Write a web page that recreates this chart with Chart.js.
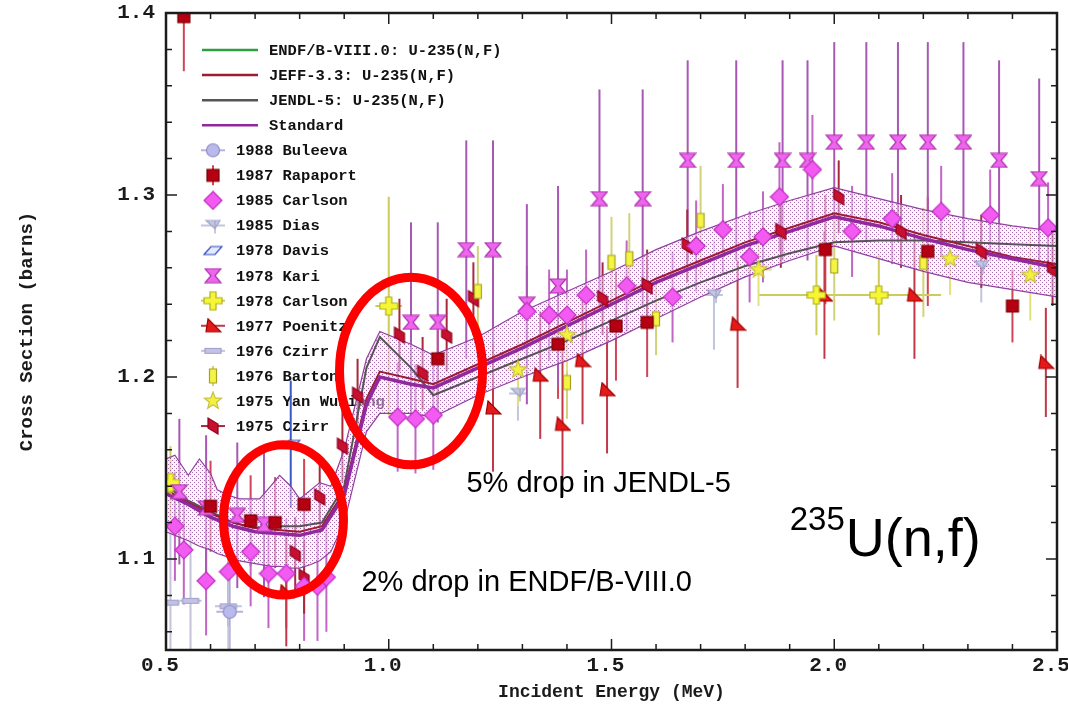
<!DOCTYPE html>
<html>
<head>
<meta charset="utf-8">
<script src="https://cdn.jsdelivr.net/npm/chart.js@4.4.1/dist/chart.umd.min.js"></script>
<style>
html, body { margin: 0; padding: 0; background: #fff; }
</style>
</head>
<body>
<canvas id="chart" width="1068" height="705"></canvas>
<script>
// axis tick labels
var xTickValues = [0.5, 1.0, 1.5, 2.0, 2.5];
var yTickValues = [1.1, 1.2, 1.3, 1.4];

// evaluations (MeV, barns)
var evalE = [0.5, 0.55, 0.6, 0.65, 0.7, 0.75, 0.8, 0.85, 0.9, 0.95, 0.98, 1.05, 1.1, 1.2, 1.3, 1.4, 1.5, 1.6, 1.7, 1.8, 1.9, 2.0, 2.1, 2.2, 2.3, 2.4, 2.5];
var stdS   = [1.136, 1.130, 1.123, 1.118, 1.115, 1.114, 1.113, 1.116, 1.135, 1.185, 1.200, 1.196, 1.194, 1.205, 1.216, 1.228, 1.240, 1.252, 1.262, 1.272, 1.280, 1.288, 1.283, 1.276, 1.270, 1.265, 1.260];
var endfS  = [1.136, 1.130, 1.123, 1.118, 1.115, 1.114, 1.113, 1.116, 1.135, 1.185, 1.200, 1.196, 1.194, 1.205, 1.216, 1.228, 1.240, 1.252, 1.262, 1.272, 1.280, 1.288, 1.283, 1.276, 1.270, 1.265, 1.260];
var jeffS  = [1.138, 1.131, 1.125, 1.120, 1.117, 1.116, 1.115, 1.118, 1.137, 1.188, 1.203, 1.199, 1.196, 1.207, 1.218, 1.230, 1.242, 1.254, 1.264, 1.274, 1.282, 1.290, 1.285, 1.278, 1.272, 1.266, 1.262];
var jendlS = [1.140, 1.132, 1.126, 1.120, 1.117, 1.118, 1.118, 1.120, 1.140, 1.205, 1.222, 1.205, 1.190, 1.200, 1.210, 1.220, 1.231, 1.242, 1.252, 1.261, 1.268, 1.274, 1.275, 1.275, 1.274, 1.273, 1.272];

// standard uncertainty band
var bandE    = [0.5, 0.52, 0.55, 0.575, 0.6, 0.615, 0.64, 0.665, 0.71, 0.735, 0.755, 0.78, 0.8, 0.825, 0.845, 0.87, 0.9, 0.95, 0.98, 1.05, 1.1, 1.2, 1.3, 1.4, 1.5, 1.6, 1.7, 1.8, 1.9, 2.0, 2.1, 2.2, 2.3, 2.4, 2.5];
var bandHigh = [1.155, 1.157, 1.146, 1.155, 1.147, 1.138, 1.135, 1.133, 1.133, 1.140, 1.146, 1.140, 1.133, 1.138, 1.142, 1.140, 1.160, 1.210, 1.225, 1.218, 1.212, 1.222, 1.236, 1.247, 1.258, 1.270, 1.280, 1.289, 1.297, 1.304, 1.298, 1.292, 1.287, 1.283, 1.280];
var bandLow  = [1.115, 1.113, 1.110, 1.107, 1.105, 1.103, 1.101, 1.099, 1.097, 1.096, 1.096, 1.095, 1.095, 1.097, 1.099, 1.104, 1.120, 1.170, 1.180, 1.180, 1.178, 1.190, 1.200, 1.209, 1.220, 1.232, 1.244, 1.255, 1.264, 1.272, 1.265, 1.258, 1.252, 1.248, 1.244];

// experiments
var bulE = [0.643], bulS = [1.071], bulErr = [0.03], bulErrX = [0.03];
var rapE = [0.54, 0.60, 0.69, 0.745, 0.81, 1.11, 1.38, 1.51, 1.58, 1.98, 2.21, 2.40];
var rapS = [1.398, 1.129, 1.121, 1.120, 1.130, 1.210, 1.218, 1.228, 1.230, 1.270, 1.269, 1.239];
var rapErr = [0.030, 0.025, 0.025, 0.025, 0.025, 0.025, 0.030, 0.030, 0.030, 0.030, 0.030, 0.020];
var c85E = [0.52, 0.54, 0.59, 0.64, 0.69, 0.73, 0.77, 0.81, 0.84, 0.86, 1.02, 1.06, 1.10, 1.31, 1.36, 1.40, 1.443, 1.534, 1.637, 1.69, 1.75, 1.81, 1.84, 1.877, 1.951, 2.04, 2.13, 2.24, 2.35, 2.48];
var c85S = [1.118, 1.105, 1.088, 1.093, 1.104, 1.092, 1.092, 1.085, 1.085, 1.090, 1.178, 1.177, 1.179, 1.236, 1.234, 1.234, 1.245, 1.250, 1.244, 1.272, 1.281, 1.266, 1.277, 1.299, 1.314, 1.280, 1.287, 1.291, 1.289, 1.282];
var c85Err = [0.03, 0.03, 0.03, 0.03, 0.03, 0.03, 0.03, 0.03, 0.03, 0.03, 0.03, 0.03, 0.03, 0.025, 0.025, 0.025, 0.025, 0.025, 0.025, 0.025, 0.025, 0.025, 0.025, 0.03, 0.03, 0.025, 0.025, 0.025, 0.025, 0.025];
var diasE = [1.29, 1.73, 2.33], diasS = [1.191, 1.245, 1.261], diasErr = [0.015, 0.03, 0.02], diasErrX = [0.02, 0.02, 0.02];
var davE = [0.78], davS = [1.163], davErr = [0.035];
var kariE = [0.53, 0.59, 0.66, 0.72, 1.05, 1.11, 1.174, 1.234, 1.31, 1.38, 1.473, 1.57, 1.671, 1.78, 1.884, 1.94, 2.0, 2.072, 2.143, 2.21, 2.29, 2.37, 2.46];
var kariS = [1.137, 1.128, 1.124, 1.119, 1.23, 1.23, 1.27, 1.27, 1.24, 1.25, 1.298, 1.298, 1.319, 1.319, 1.319, 1.319, 1.329, 1.329, 1.329, 1.329, 1.329, 1.319, 1.309];
var kariErr = [0.04, 0.04, 0.04, 0.04, 0.055, 0.055, 0.06, 0.06, 0.055, 0.055, 0.06, 0.06, 0.055, 0.055, 0.055, 0.055, 0.055, 0.055, 0.055, 0.055, 0.055, 0.055, 0.055];
var c78E = [0.51, 1.0, 1.96, 2.10], c78S = [1.142, 1.239, 1.245, 1.245], c78Err = [0.02, 0.06, 0.022, 0.022], c78ErrX = [0.02, 0.03, 0.13, 0.14];
var poeE = [0.77, 1.234, 1.34, 1.39, 1.435, 1.49, 1.783, 1.978, 2.18, 2.475];
var poeS = [1.082, 1.183, 1.201, 1.174, 1.209, 1.193, 1.229, 1.245, 1.245, 1.208];
var poeErr = [0.03, 0.035, 0.035, 0.04, 0.035, 0.035, 0.035, 0.035, 0.035, 0.03];
var cz76E = [0.51, 0.555, 0.64], cz76S = [1.076, 1.077, 1.074], cz76Err = [0.04, 0.04, 0.04], cz76ErrX = [0.02, 0.025, 0.03];
var barE = [1.20, 1.40, 1.50, 1.54, 1.60, 1.70, 2.00, 2.20];
var barS = [1.247, 1.197, 1.263, 1.265, 1.232, 1.286, 1.261, 1.263];
var barErr = [0.025, 0.02, 0.025, 0.025, 0.02, 0.03, 0.03, 0.03];
var yanE = [0.50, 1.29, 1.40, 1.83, 2.26, 2.44], yanS = [1.14, 1.204, 1.223, 1.259, 1.265, 1.256];
var yanErr = [0.02, 0.02, 0.02, 0.02, 0.02, 0.025], yanErrX = [0.02, 0.03, 0.03, 0.03, 0.03, 0.03];
var czE = [0.79, 0.81, 0.845, 0.896, 0.93, 1.024, 1.076, 1.13, 1.19, 1.48, 1.58, 1.67, 1.88, 2.01, 2.15, 2.33, 2.49];
var czS = [1.103, 1.09, 1.134, 1.162, 1.19, 1.223, 1.202, 1.223, 1.243, 1.243, 1.25, 1.272, 1.28, 1.299, 1.28, 1.269, 1.259];
var czErr = [0.02, 0.02, 0.02, 0.02, 0.02, 0.02, 0.02, 0.02, 0.02, 0.02, 0.02, 0.02, 0.02, 0.02, 0.02, 0.02, 0.02];

function pts(xs, ys) {
    return xs.map(function (x, i) { return { x: x, y: ys[i] }; });
}

function marker(w, h, draw) {
    var c = document.createElement('canvas');
    c.width = w; c.height = h;
    var g = c.getContext('2d');
    g.lineWidth = 1.2;
    draw(g, w / 2, h / 2);
    return c;
}
function poly(g, pts, fill, stroke) {
    g.beginPath();
    g.moveTo(pts[0][0], pts[0][1]);
    for (var i = 1; i < pts.length; i++) g.lineTo(pts[i][0], pts[i][1]);
    g.closePath();
    g.fillStyle = fill; g.fill();
    g.strokeStyle = stroke; g.stroke();
}

var mk = {
    circle: marker(16, 16, function (g, x, y) {
        g.beginPath(); g.arc(x, y, 6.5, 0, Math.PI * 2);
        g.fillStyle = '#b9b9ec'; g.fill(); g.strokeStyle = '#9090c8'; g.stroke();
    }),
    square: marker(16, 16, function (g, x, y) {
        poly(g, [[x - 6, y - 6], [x + 6, y - 6], [x + 6, y + 6], [x - 6, y + 6]], '#b40012', '#7a0000');
    }),
    diamond: marker(20, 20, function (g, x, y) {
        poly(g, [[x, y - 9], [x + 9, y], [x, y + 9], [x - 9, y]], '#f25af2', '#c030c0');
    }),
    dias: marker(18, 18, function (g, x, y) {
        poly(g, [[x - 7, y - 5], [x + 7, y - 5], [x + 2, y + 3]], '#c4c8e2', '#a0a4c8');
        g.strokeStyle = '#a0a4c8'; g.beginPath(); g.moveTo(x + 2, y - 5); g.lineTo(x + 2, y + 8); g.stroke();
    }),
    davis: marker(20, 14, function (g, x, y) {
        poly(g, [[x - 9, y + 4], [x - 2, y - 4], [x + 9, y - 4], [x + 2, y + 4]], '#e6eaff', '#2a48c0');
    }),
    kari: marker(18, 16, function (g, x, y) {
        poly(g, [[x - 8, y - 7], [x + 8, y - 7], [x + 2, y], [x + 8, y + 7], [x - 8, y + 7], [x - 2, y]], '#ee66ee', '#b030b0');
    }),
    plus: marker(20, 20, function (g, x, y) {
        poly(g, [[x - 3, y - 9], [x + 3, y - 9], [x + 3, y - 3], [x + 9, y - 3], [x + 9, y + 3], [x + 3, y + 3],
                 [x + 3, y + 9], [x - 3, y + 9], [x - 3, y + 3], [x - 9, y + 3], [x - 9, y - 3], [x - 3, y - 3]], '#f6f634', '#b0b020');
    }),
    tri: marker(18, 16, function (g, x, y) {
        poly(g, [[x - 5, y - 7], [x + 8, y + 6], [x - 7, y + 6]], '#e41a1a', '#a00000');
    }),
    flat: marker(20, 10, function (g, x, y) {
        poly(g, [[x - 8, y - 2.5], [x + 8, y - 2.5], [x + 8, y + 2.5], [x - 8, y + 2.5]], '#c2c2e6', '#a0a0cc');
    }),
    barton: marker(12, 18, function (g, x, y) {
        poly(g, [[x - 3.5, y - 7], [x + 3.5, y - 7], [x + 3.5, y + 7], [x - 3.5, y + 7]], '#f4f444', '#a8a020');
    }),
    star: marker(20, 20, function (g, x, y) {
        var p = [];
        for (var i = 0; i < 10; i++) {
            var r = i % 2 ? 3.8 : 9, t = -Math.PI / 2 + i * Math.PI / 5;
            p.push([x + r * Math.cos(t), y + r * Math.sin(t)]);
        }
        poly(g, p, '#f4f040', '#c8c040');
    }),
    czirr: marker(14, 20, function (g, x, y) {
        poly(g, [[x - 5, y - 8], [x + 5, y - 2], [x + 5, y + 8], [x - 5, y + 2]], '#c8102e', '#8c0020');
    })
};

function expSet(label, E, S, errY, errX, style, barColor, legendBar) {
    return {
        label: label, data: pts(E, S), showLine: false,
        pointStyle: style, pointRadius: 8, order: 1,
        errY: errY, errX: errX, barColor: barColor, legendBar: legendBar
    };
}
function curve(label, E, S, color, width, order) {
    return {
        label: label, data: pts(E, S), showLine: true, pointRadius: 0,
        borderColor: color, borderWidth: width, fill: false, order: order, tension: 0
    };
}

// dotted band pattern
var pc = document.createElement('canvas');
pc.width = 4; pc.height = 4;
var pg = pc.getContext('2d');
pg.fillStyle = 'rgba(252,232,250,0.5)'; pg.fillRect(0, 0, 4, 4);
pg.fillStyle = 'rgba(130,50,140,0.7)'; pg.fillRect(0, 0, 1, 1); pg.fillRect(2, 2, 1, 1);
var bandPattern = pg.createPattern(pc, 'repeat');

var datasets = [
    curve('ENDF/B-VIII.0: U-235(N,F)', evalE, endfS, '#2e9e40', 2, 7),
    curve('JEFF-3.3: U-235(N,F)', evalE, jeffS, '#9e1c32', 2, 5),
    curve('JENDL-5: U-235(N,F)', evalE, jendlS, '#555555', 2, 6),
    curve('Standard', evalE, stdS, '#92289e', 3.5, 4),
    { label: 'band low', data: pts(bandE, bandLow), showLine: true, pointRadius: 0, borderColor: '#9040a0', borderWidth: 1.2, fill: false, order: 10 },
    { label: 'band high', data: pts(bandE, bandHigh), showLine: true, pointRadius: 0, borderColor: '#9040a0', borderWidth: 1.2, fill: '-1', backgroundColor: bandPattern, order: 10 },
    expSet('1988 Buleeva', bulE, bulS, bulErr, bulErrX, mk.circle, '#b4b4dc', 'h'),
    expSet('1987 Rapaport', rapE, rapS, rapErr, null, mk.square, '#d04658', 'v'),
    expSet('1985 Carlson', c85E, c85S, c85Err, null, mk.diamond, '#c266c6', null),
    expSet('1985 Dias', diasE, diasS, diasErr, diasErrX, mk.dias, '#c2c6dc', 'h'),
    expSet('1978 Davis', davE, davS, davErr, null, mk.davis, '#3a58c8', null),
    expSet('1978 Kari', kariE, kariS, kariErr, null, mk.kari, '#a858b4', null),
    expSet('1978 Carlson', c78E, c78S, c78Err, c78ErrX, mk.plus, '#cccc5c', 'h'),
    expSet('1977 Poenitz', poeE, poeS, poeErr, null, mk.tri, '#c23848', 'h'),
    expSet('1976 Czirr', cz76E, cz76S, cz76Err, cz76ErrX, mk.flat, '#c4c4d8', 'h'),
    expSet('1976 Barton', barE, barS, barErr, null, mk.barton, '#d2d27a', 'v'),
    expSet('1975 Yan Wuhiang', yanE, yanS, yanErr, yanErrX, mk.star, '#e2e27c', null),
    expSet('1975 Czirr', czE, czS, czErr, null, mk.czirr, '#a8283e', 'h')
];

var monoBold = "bold 15.5px 'Liberation Mono', 'DejaVu Sans Mono', monospace";

var legendBox = {
    id: 'legendBox',
    beforeDatasetsDraw: function (chart) {
        var ctx = chart.ctx, y0 = 50, step = 25.07;
        ctx.save();
        ctx.font = monoBold;
        ctx.textBaseline = 'middle';
        ctx.fillStyle = '#111';
        var row = 0;
        chart.data.datasets.forEach(function (ds) {
            if (ds.label.indexOf('band') === 0) return;
            var y = y0 + row * step;
            if (ds.pointRadius === 0) {
                ctx.strokeStyle = ds.borderColor;
                ctx.lineWidth = 2.5;
                ctx.beginPath(); ctx.moveTo(202, y); ctx.lineTo(258, y); ctx.stroke();
                ctx.fillText(ds.label, 269, y + 1);
            } else {
                ctx.strokeStyle = ds.barColor;
                ctx.lineWidth = 2;
                if (ds.legendBar === 'h') { ctx.beginPath(); ctx.moveTo(201, y); ctx.lineTo(225, y); ctx.stroke(); }
                if (ds.legendBar === 'v') { ctx.beginPath(); ctx.moveTo(213, y - 10); ctx.lineTo(213, y + 10); ctx.stroke(); }
                var m = ds.pointStyle;
                ctx.drawImage(m, 213 - m.width / 2, y - m.height / 2);
                ctx.fillText(ds.label, 236, y + 1);
            }
            row++;
        });
        ctx.restore();
    }
};

var errorBars = {
    id: 'errorBars',
    beforeDatasetsDraw: function (chart) {
        var ctx = chart.ctx, a = chart.chartArea, xs = chart.scales.x, ys = chart.scales.y;
        ctx.save();
        ctx.beginPath(); ctx.rect(a.left, a.top, a.right - a.left, a.bottom - a.top); ctx.clip();
        ctx.lineWidth = 2;
        chart.data.datasets.forEach(function (ds) {
            if (!ds.errY) return;
            ctx.strokeStyle = ds.barColor;
            ds.data.forEach(function (p, i) {
                var px = xs.getPixelForValue(p.x), py = ys.getPixelForValue(p.y);
                ctx.beginPath();
                ctx.moveTo(px, ys.getPixelForValue(p.y - ds.errY[i]));
                ctx.lineTo(px, ys.getPixelForValue(p.y + ds.errY[i]));
                if (ds.errX) {
                    ctx.moveTo(xs.getPixelForValue(p.x - ds.errX[i]), py);
                    ctx.lineTo(xs.getPixelForValue(p.x + ds.errX[i]), py);
                }
                ctx.stroke();
            });
        });
        ctx.restore();
    }
};

var frameTicks = {
    id: 'frameTicks',
    afterDatasetsDraw: function (chart) {
        var ctx = chart.ctx, a = chart.chartArea, xs = chart.scales.x, ys = chart.scales.y;
        ctx.save();
        ctx.strokeStyle = '#1c1c1c';
        ctx.lineWidth = 1.5;
        ctx.beginPath();
        var i, v, p, len;
        for (i = 0; i <= 20; i++) {
            v = 0.5 + i * 0.1;
            p = xs.getPixelForValue(v);
            len = (i % 5 === 0) ? 11 : 6;
            ctx.moveTo(p, a.bottom); ctx.lineTo(p, a.bottom - len);
            ctx.moveTo(p, a.top); ctx.lineTo(p, a.top + len);
        }
        for (i = 0; i <= 17; i++) {
            v = 1.06 + i * 0.02;
            p = ys.getPixelForValue(v);
            len = (Math.abs(v * 10 - Math.round(v * 10)) < 1e-6) ? 11 : 6;
            ctx.moveTo(a.left, p); ctx.lineTo(a.left + len, p);
            ctx.moveTo(a.right, p); ctx.lineTo(a.right - len, p);
        }
        ctx.stroke();
        ctx.lineWidth = 2.5;
        ctx.strokeRect(a.left, a.top, a.right - a.left, a.bottom - a.top);
        ctx.restore();
    }
};

// notes: ellipses and text placed in data coordinates
var ellipses = [
    { x: 1.05, y: 1.2033, rx: 0.1605, ry: 0.0515 },
    { x: 0.7637, y: 1.1215, rx: 0.1347, ry: 0.0413 }
];
var notes = [
    { text: '5% drop in JENDL-5', x: 1.1745, y: 1.1369 },
    { text: '2% drop in ENDF/B-VIII.0', x: 0.9388, y: 1.0824 }
];

var annotations = {
    id: 'annotations',
    afterDraw: function (chart) {
        var ctx = chart.ctx, xs = chart.scales.x, ys = chart.scales.y;
        ctx.save();
        ctx.strokeStyle = '#ff0000';
        ctx.lineWidth = 9;
        ellipses.forEach(function (e) {
            var cx = xs.getPixelForValue(e.x), cy = ys.getPixelForValue(e.y);
            var rx = xs.getPixelForValue(e.x + e.rx) - cx, ry = cy - ys.getPixelForValue(e.y + e.ry);
            ctx.beginPath(); ctx.ellipse(cx, cy, rx, ry, 0, 0, Math.PI * 2); ctx.stroke();
        });
        ctx.fillStyle = '#000';
        ctx.textBaseline = 'alphabetic';
        ctx.font = "29px 'Liberation Sans', Arial, sans-serif";
        notes.forEach(function (n) {
            ctx.fillText(n.text, xs.getPixelForValue(n.x), ys.getPixelForValue(n.y));
        });
        var lx = xs.getPixelForValue(1.9);
        ctx.font = "33px 'Liberation Sans', Arial, sans-serif";
        ctx.fillText('235', lx, ys.getPixelForValue(1.116));
        var w = ctx.measureText('235').width;
        ctx.font = "54px 'Liberation Sans', Arial, sans-serif";
        ctx.fillText('U(n,f)', lx + w + 1, ys.getPixelForValue(1.1017));
        ctx.restore();
    }
};

var tickFont = { family: "'Liberation Mono', 'DejaVu Sans Mono', monospace", size: 21, weight: 'bold' };

new Chart(document.getElementById('chart'), {
    type: 'scatter',
    data: { datasets: datasets },
    options: {
        responsive: false,
        animation: false,
        devicePixelRatio: 1,
        layout: { padding: { left: 0, right: 11, top: 13, bottom: 0 } },
        plugins: { legend: { display: false }, tooltip: { enabled: false } },
        scales: {
            x: {
                type: 'linear', min: 0.5, max: 2.5,
                afterBuildTicks: function (s) { s.ticks = xTickValues.map(function (v) { return { value: v }; }); },
                afterFit: function (s) { s.height = 55; s.paddingLeft = 0; s.paddingRight = 0; },
                grid: { display: false, drawTicks: false },
                border: { display: false },
                ticks: {
                    color: '#1a1a1a', font: tickFont, padding: 3, maxRotation: 0, labelOffset: -6,
                    callback: function (v) { return Number(v).toFixed(1); }
                },
                title: {
                    display: true, text: 'Incident Energy (MeV)', color: '#1a1a1a',
                    font: { family: "'Liberation Mono', 'DejaVu Sans Mono', monospace", size: 18, weight: 'bold' },
                    padding: { top: 0, bottom: 2 }
                }
            },
            y: {
                type: 'linear', min: 1.05, max: 1.4,
                afterBuildTicks: function (s) { s.ticks = yTickValues.map(function (v) { return { value: v }; }); },
                afterFit: function (s) { s.width = 166; s.paddingTop = 0; s.paddingBottom = 0; },
                grid: { display: false, drawTicks: false },
                border: { display: false },
                ticks: {
                    color: '#1a1a1a', font: tickFont, padding: 11,
                    callback: function (v) { return Number(v).toFixed(1); }
                },
                title: {
                    display: true, text: 'Cross Section (barns)', color: '#1a1a1a',
                    font: { family: "'Liberation Mono', 'DejaVu Sans Mono', monospace", size: 19, weight: 'bold' },
                    padding: { top: 16, bottom: 0 }
                }
            }
        }
    },
    plugins: [legendBox, errorBars, frameTicks, annotations]
});
</script>
</body>
</html>
